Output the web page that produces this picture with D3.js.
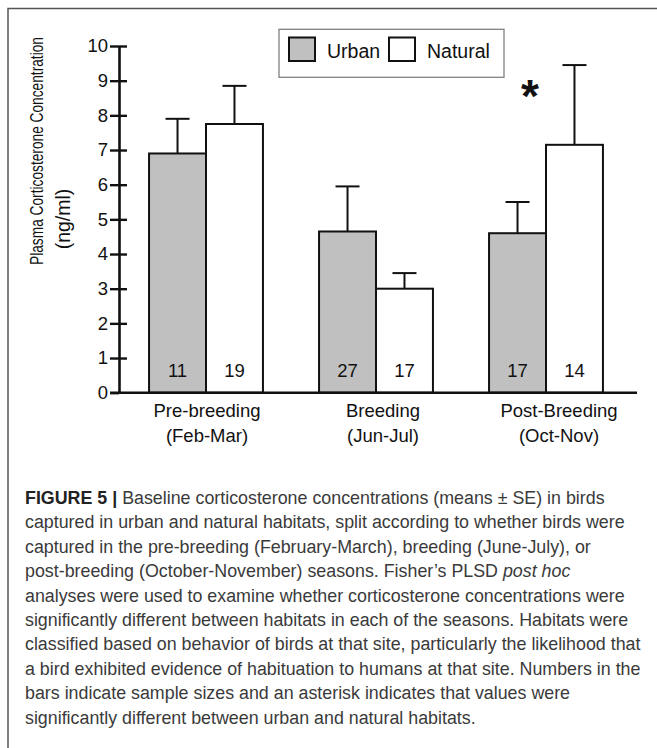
<!DOCTYPE html>
<html><head><meta charset="utf-8">
<script src="https://cdn.jsdelivr.net/npm/d3@7"></script>
<style>body{margin:0;background:#fff} svg{display:block}</style>
</head><body><svg id="c" width="657" height="748"></svg>
<script>
const categories = ["Pre-breeding", "Breeding", "Post-Breeding"];
const categoryMonths = ["(Feb-Mar)", "(Jun-Jul)", "(Oct-Nov)"];
const seriesNames = ["Urban", "Natural"];
const urbanMeans = [6.9, 4.65, 4.6];
const urbanSE = [1.0, 1.3, 0.9];
const naturalMeans = [7.75, 3.0, 7.15];
const naturalSE = [1.1, 0.45, 2.3];
const urbanN = [11, 27, 17];
const naturalN = [19, 17, 14];
const yTicks = [0, 1, 2, 3, 4, 5, 6, 7, 8, 9, 10];
const significantCategories = ["Post-Breeding"];
const yTitle = "Plasma Corticosterone Concentration";
const yUnits = "(ng/ml)";
const captionLines = [
  [{t: "FIGURE 5 | ", b: true}, {t: "Baseline corticosterone concentrations (means \u00b1 SE) in birds"}],
  [{t: "captured in urban and natural habitats, split according to whether birds were"}],
  [{t: "captured in the pre-breeding (February-March), breeding (June-July), or"}],
  [{t: "post-breeding (October-November) seasons. Fisher\u2019s PLSD "}, {t: "post hoc", i: true}],
  [{t: "analyses were used to examine whether corticosterone concentrations were"}],
  [{t: "significantly different between habitats in each of the seasons. Habitats were"}],
  [{t: "classified based on behavior of birds at that site, particularly the likelihood that"}],
  [{t: "a bird exhibited evidence of habituation to humans at that site. Numbers in the"}],
  [{t: "bars indicate sample sizes and an asterisk indicates that values were"}],
  [{t: "significantly different between urban and natural habitats."}]
];

const svg = d3.select("#c");
const FONT = "'Liberation Sans', Arial, Helvetica, sans-serif";
const INK = "#111";

// frame
svg.append("path").attr("d", "M8,748V8.5H657").attr("fill", "none")
  .attr("stroke", "#555").attr("stroke-width", 1.5);

const y = d3.scaleLinear().domain([0, 10]).range([392.7, 46]);
const x0 = d3.scaleBand().domain(categories).range([121, 631])
  .paddingInner(0.33).paddingOuter(0.165);
const x1 = d3.scaleBand().domain(seriesNames).range([0, x0.bandwidth()]);
const xLabel = d3.scalePoint().domain(categories).range([207, 559]);
const color = d3.scaleOrdinal().domain(seriesNames).range(["#c0c0c0", "#ffffff"]);

const rows = [];
categories.forEach((c, i) => {
  rows.push({cat: c, s: "Urban", m: urbanMeans[i], se: urbanSE[i], n: urbanN[i]});
  rows.push({cat: c, s: "Natural", m: naturalMeans[i], se: naturalSE[i], n: naturalN[i]});
});

const plot = svg.append("g");

// error bars
const eb = plot.selectAll("g.eb").data(rows).join("g").attr("class", "eb")
  .attr("stroke", INK).attr("stroke-width", 2);
eb.append("line")
  .attr("x1", d => x0(d.cat) + x1(d.s) + x1.bandwidth() / 2)
  .attr("x2", d => x0(d.cat) + x1(d.s) + x1.bandwidth() / 2)
  .attr("y1", d => y(d.m)).attr("y2", d => y(d.m + d.se));
eb.append("line")
  .attr("x1", d => x0(d.cat) + x1(d.s) + x1.bandwidth() / 2 - 12)
  .attr("x2", d => x0(d.cat) + x1(d.s) + x1.bandwidth() / 2 + 12)
  .attr("y1", d => y(d.m + d.se)).attr("y2", d => y(d.m + d.se));

// bars
plot.selectAll("rect.bar").data(rows).join("rect").attr("class", "bar")
  .attr("x", d => x0(d.cat) + x1(d.s))
  .attr("y", d => y(d.m))
  .attr("width", x1.bandwidth())
  .attr("height", d => y(0) - y(d.m))
  .attr("fill", d => color(d.s))
  .attr("stroke", INK).attr("stroke-width", 2);

// sample sizes
plot.selectAll("text.n").data(rows).join("text").attr("class", "n")
  .attr("x", d => x0(d.cat) + x1(d.s) + x1.bandwidth() / 2)
  .attr("y", y(0) - 16)
  .attr("text-anchor", "middle")
  .attr("font-family", FONT).attr("font-size", 18.5).attr("fill", INK)
  .text(d => d.n);

// y axis
const yAxisG = svg.append("g").attr("transform", "translate(119,0)");
yAxisG.call(d3.axisLeft(y).tickValues(yTicks).tickSizeInner(9).tickSizeOuter(0).tickPadding(2));
yAxisG.select(".domain").attr("stroke", INK).attr("stroke-width", 2.6);
yAxisG.selectAll(".tick line").attr("stroke", INK).attr("stroke-width", 2.4);
yAxisG.selectAll(".tick text").attr("font-family", FONT).attr("font-size", 18.5).attr("fill", INK);
const yAxisR = svg.append("g").attr("transform", "translate(119,0)");
yAxisR.call(d3.axisRight(y).tickValues(yTicks.slice(1)).tickSize(8).tickFormat(""));
yAxisR.select(".domain").remove();
yAxisR.selectAll(".tick line").attr("stroke", INK).attr("stroke-width", 2.4);

// baseline
svg.append("line").attr("x1", 110).attr("x2", 637).attr("y1", y(0)).attr("y2", y(0))
  .attr("stroke", INK).attr("stroke-width", 2.6);

// category labels
const catG = svg.append("g").attr("font-family", FONT).attr("font-size", 18.5)
  .attr("fill", INK).attr("text-anchor", "middle");
catG.selectAll("text.c1").data(categories).join("text").attr("class", "c1")
  .attr("x", d => xLabel(d)).attr("y", y(0) + 24).text(d => d);
catG.selectAll("text.c2").data(categories).join("text").attr("class", "c2")
  .attr("x", d => xLabel(d)).attr("y", y(0) + 49).text((d, i) => categoryMonths[i]);

// asterisk
svg.selectAll("text.sig").data(significantCategories).join("text").attr("class", "sig")
  .attr("x", d => x0(d) + x0.bandwidth() / 2 - 16)
  .attr("y", y(8.1))
  .attr("text-anchor", "middle")
  .attr("font-family", FONT).attr("font-weight", "bold").attr("font-size", 46)
  .attr("fill", INK).text("*");

// y titles
const titleEl = svg.append("text")
  .attr("text-anchor", "middle").attr("font-family", FONT).attr("font-size", 18)
  .attr("fill", INK).text(yTitle);
const titleLen = titleEl.node().getComputedTextLength();
titleEl.attr("transform", `translate(43,151) rotate(-90) scale(${228 / titleLen},1)`);
svg.append("text").attr("transform", "translate(69.5,219) rotate(-90)")
  .attr("text-anchor", "middle").attr("font-family", FONT).attr("font-size", 19.5)
  .attr("fill", INK).text(yUnits);

// legend
const lg = svg.append("g");
lg.append("rect").attr("x", 279).attr("y", 29.3).attr("width", 225).attr("height", 48)
  .attr("fill", "#fff").attr("stroke", "#808080").attr("stroke-width", 1.3);
const legendX = d3.scaleOrdinal().domain(seriesNames).range([289, 389]);
const li = lg.selectAll("g.li").data(seriesNames).join("g").attr("class", "li")
  .attr("transform", d => `translate(${legendX(d)},37.5)`);
li.append("rect").attr("width", 26).attr("height", 23.5)
  .attr("fill", d => color(d)).attr("stroke", INK).attr("stroke-width", 2);
li.append("text").attr("x", 38).attr("y", 20.5)
  .attr("font-family", FONT).attr("font-size", 19.5).attr("fill", INK).text(d => d);

// caption
const capG = svg.append("g").attr("font-family", FONT).attr("fill", "#3a3a3a");
const capText = capG.selectAll("text").data(captionLines).join("text")
  .attr("x", 25).attr("y", (d, i) => 504 + i * 24.4).attr("font-size", 16);
capText.selectAll("tspan").data(d => d).join("tspan")
  .attr("font-weight", d => d.b ? "bold" : null)
  .attr("fill", d => d.b ? "#222" : null)
  .attr("font-style", d => d.i ? "italic" : null)
  .text(d => d.t);
const refLen = capText.nodes()[1].getComputedTextLength();
const fs = 16 * 600 / refLen;
capText.attr("font-size", fs);
</script></body></html>
